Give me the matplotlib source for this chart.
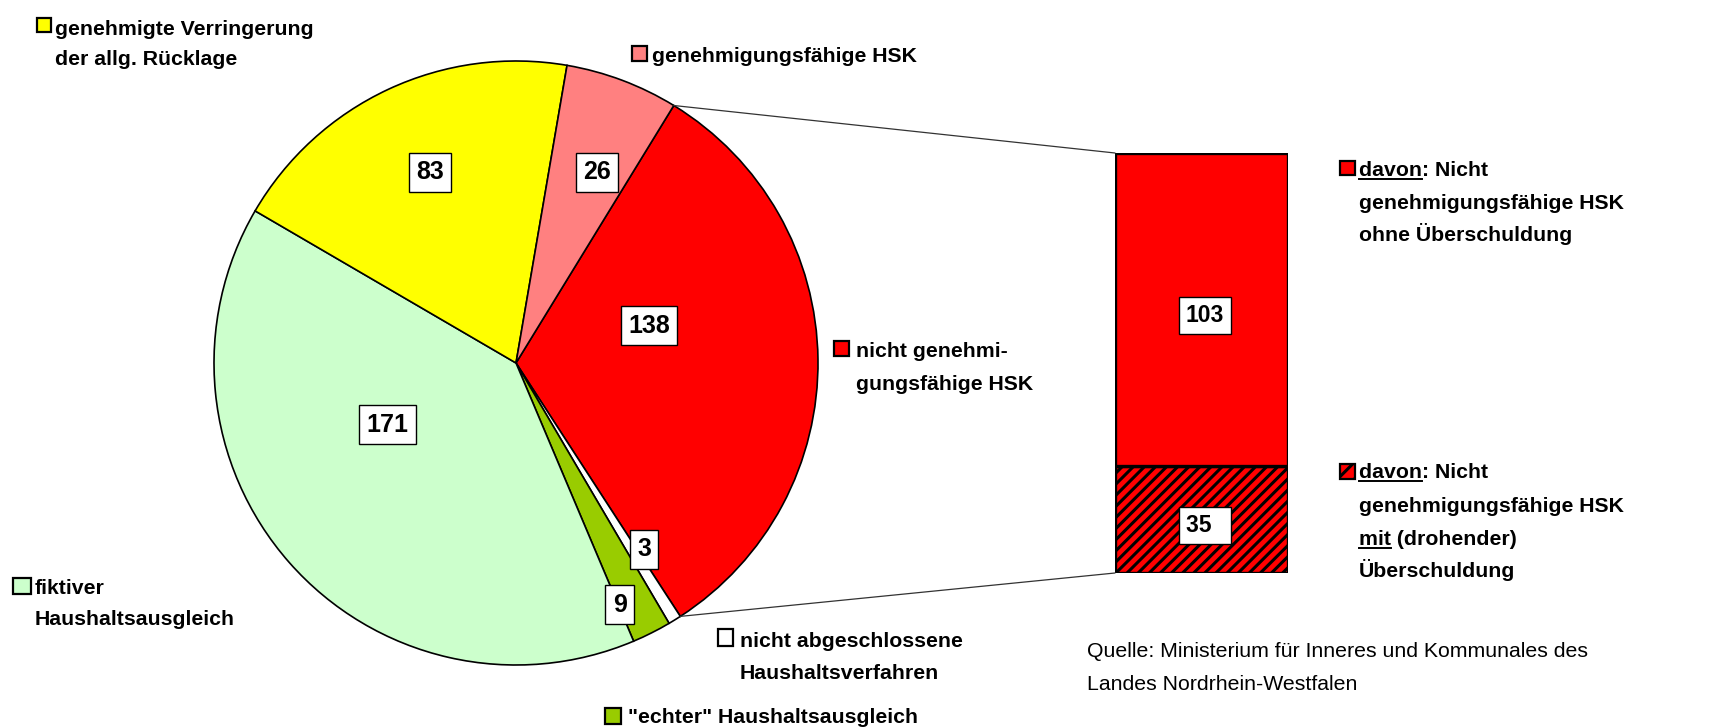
import matplotlib
matplotlib.use("Agg")
import matplotlib.pyplot as plt
import matplotlib.font_manager as fm
from matplotlib.patches import Rectangle, ConnectionPatch
from matplotlib.lines import Line2D
import numpy as np

# ---------------- data ----------------
pie_categories = ["nicht genehmigungsfähige HSK", "nicht abgeschlossene Haushaltsverfahren",
                  "\"echter\" Haushaltsausgleich", "fiktiver Haushaltsausgleich",
                  "genehmigte Verringerung der allg. Rücklage", "genehmigungsfähige HSK"]
pie_values = [138, 3, 9, 171, 83, 26]
pie_colors = ["#FF0000", "#FFFFFF", "#99CC00", "#CCFFCC", "#FFFF00", "#FF8080"]

bar_categories = ["mit (drohender) Überschuldung", "ohne Überschuldung"]
bar_values = [35, 103]

# ---------------- setup ----------------
W, H = 1736, 728
DPI = 100
names = {f.name for f in fm.fontManager.ttflist}
NARROW = "Liberation Sans Narrow" in names
FAM = ["Liberation Sans Narrow", "Liberation Sans", "DejaVu Sans"] if NARROW else ["Liberation Sans", "DejaVu Sans"]
LEG_FS = 18 if NARROW else 15.3
NUM_FS = 20 if NARROW else 18
BAR_FS = 18 if NARROW else 16.5
plt.rcParams["hatch.linewidth"] = 2.2

fig = plt.figure(figsize=(W / DPI, H / DPI), dpi=DPI)


def fx(px):
    return px / W


def fy(py):
    return 1 - py / H


# ---------------- pie ----------------
cx, cy, R = 516, 363, 302
ax = fig.add_axes([fx(cx - R), fy(cy + R), 2 * R / W, 2 * R / H])
wedges, _ = ax.pie(pie_values, colors=pie_colors, startangle=58.5, counterclock=False,
                   radius=1.0, wedgeprops=dict(edgecolor="black", linewidth=1.2))
ax.set_xlim(-1, 1)
ax.set_ylim(-1, 1)
ax.set_aspect("auto")
ax.axis("off")

# label positions (layout, in pie units)
label_pos = [(0.44, 0.123), (0.424, -0.616), (0.344, -0.801),
             (-0.427, -0.205), (-0.285, 0.632), (0.268, 0.632)]
for v, (lx, ly) in zip(pie_values, label_pos):
    ax.text(lx, ly, str(v), ha="center", va="center", fontsize=NUM_FS, fontweight="bold",
            family=FAM, bbox=dict(boxstyle="square,pad=0.3", fc="white", ec="black", lw=1.0))

# ---------------- bar ----------------
bx0, bx1, by0, by1 = 1115, 1288, 153, 573
bax = fig.add_axes([fx(bx0), fy(by1), (bx1 - bx0) / W, (by1 - by0) / H])
total = sum(bar_values)
bottom = 0
hatches = ["///", None]
for v, hatch in zip(bar_values, hatches):
    bax.bar(0, v, bottom=bottom, width=1.0, color="#FF0000", edgecolor="black",
            linewidth=2.4, hatch=hatch)
    bottom += v
bax.set_xlim(-0.5, 0.5)
bax.set_ylim(0, total)
bax.axis("off")

bottom = 0
for v in bar_values:
    txt = str(v) if len(str(v)) == 3 else str(v) + "\u2007"
    bax.text(0.02, bottom + v / 2 - 2, txt, ha="center", va="center", fontsize=BAR_FS,
             fontweight="bold", family=FAM,
             bbox=dict(boxstyle="square,pad=0.3", fc="white", ec="black", lw=1.0))
    bottom += v

# connector lines from red wedge edges to bar corners
red = wedges[0]
for ang, yb in [(red.theta2, total), (red.theta1, 0)]:
    a = np.deg2rad(ang)
    con = ConnectionPatch(xyA=(np.cos(a), np.sin(a)), coordsA=ax.transData,
                          xyB=(-0.5, yb), coordsB=bax.transData,
                          color="#333333", lw=0.9)
    fig.add_artist(con)

# ---------------- legend-like labels ----------------
def square(x0, y0, x1, y1, color, hatch=None):
    r = Rectangle((fx(x0), fy(y1)), (x1 - x0) / W, (y1 - y0) / H, transform=fig.transFigure,
                  facecolor=color, edgecolor="black", linewidth=1.6, hatch=hatch)
    fig.add_artist(r)


def lines(x, baselines, texts, weight="bold", fs=None):
    out = []
    for b, t in zip(baselines, texts):
        out.append(fig.text(fx(x), fy(b), t, ha="left", va="baseline", fontsize=fs or LEG_FS,
                            fontweight=weight, family=FAM, color="black"))
    return out


square(37, 18, 51, 32, "#FFFF00")
lines(55, [35, 65], ["genehmigte Verringerung", "der allg. Rücklage"])

square(632, 46, 647, 61, "#FF8080")
lines(652, [62], ["genehmigungsfähige HSK"])

square(834, 341, 849, 356, "#FF0000")
lines(856, [357, 390], ["nicht genehmi-", "gungsfähige HSK"])

square(718, 629, 733, 646, "#FFFFFF")
lines(740, [647, 679], ["nicht abgeschlossene", "Haushaltsverfahren"])

square(605, 708, 621, 724, "#99CC00")
lines(628, [723], ["\"echter\" Haushaltsausgleich"])

square(13, 578, 31, 594, "#CCFFCC")
lines(35, [594, 625], ["fiktiver", "Haushaltsausgleich"])

square(1340, 161, 1355, 175, "#FF0000")
lines(1359, [176, 209, 241], ["davon: Nicht", "genehmigungsfähige HSK", "ohne Überschuldung"])

square(1340, 464, 1355, 479, "#FF0000", hatch="//")
lines(1359, [478, 512, 545, 577], ["davon: Nicht", "genehmigungsfähige HSK",
                                   "mit (drohender)", "Überschuldung"])

lines(1087, [657, 690], ["Quelle: Ministerium für Inneres und Kommunales des",
                         "Landes Nordrhein-Westfalen"], weight="normal")

# underlines
fig.canvas.draw()
renderer = fig.canvas.get_renderer()


def underline(x, base, word):
    tmp = fig.text(fx(x), fy(base), word, ha="left", va="baseline", fontsize=LEG_FS,
                   fontweight="bold", family=FAM)
    bb = tmp.get_window_extent(renderer)
    tmp.remove()
    yy = fy(base + 3)
    fig.add_artist(Line2D([bb.x0 / W, bb.x1 / W], [yy, yy], transform=fig.transFigure,
                          color="black", lw=1.4))


underline(1359, 176, "davon")
underline(1359, 478, "davon")
underline(1359, 545, "mit")

fig.savefig("out.png", dpi=DPI)
